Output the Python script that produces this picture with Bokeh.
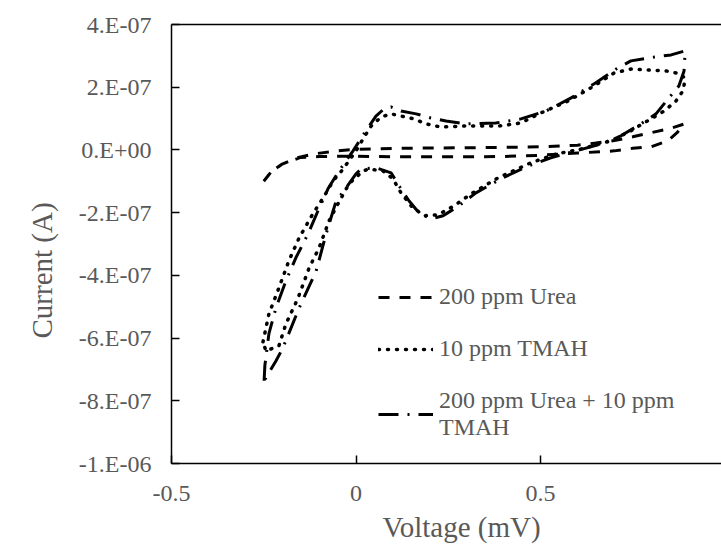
from bokeh.plotting import figure
from bokeh.models import LinearAxis, FixedTicker, Range1d, Legend, LegendItem, Title
from bokeh.embed import file_html
from bokeh.resources import INLINE

# ---- data (voltage in V, current in units of 1e-7 A) ----
voltage_ticks = [-0.5, 0, 0.5, 1.0]
voltage_tick_labels = ["-0.5", "0", "0.5", "1"]
current_ticks = [4, 2, 0, -2, -4, -6, -8, -10]
current_tick_labels = ["4.E-07", "2.E-07", "0.E+00", "-2.E-07", "-4.E-07", "-6.E-07", "-8.E-07", "-1.E-06"]

x_title = "Voltage (mV)"
y_title = "Current (A)"
series_names = ["200 ppm Urea", "10 ppm TMAH", "200 ppm Urea + 10 ppm\nTMAH"]

urea_v = [-0.25, -0.23, -0.2, -0.16, -0.11, -0.05, 0.0, 0.1, 0.2, 0.3, 0.4, 0.5, 0.6, 0.65, 0.7, 0.75, 0.8, 0.85, 0.89,
          0.87, 0.845, 0.8, 0.75, 0.7, 0.6, 0.5, 0.4, 0.3, 0.2, 0.1, 0.0, -0.05, -0.1, -0.15, -0.2, -0.23, -0.25]
urea_i = [-1.0, -0.7, -0.45, -0.25, -0.12, -0.03, 0.02, 0.05, 0.06, 0.07, 0.08, 0.1, 0.15, 0.22, 0.3, 0.42, 0.55, 0.68, 0.83,
          0.55, 0.29, 0.1, 0.05, -0.03, -0.1, -0.17, -0.21, -0.22, -0.22, -0.22, -0.2, -0.2, -0.21, -0.24, -0.45, -0.7, -1.0]

tmah_v = [-0.252, -0.236, -0.209, -0.182, -0.154, -0.117, -0.089, -0.062, -0.035, 0.0, 0.019, 0.041, 0.068, 0.095,
          0.122, 0.157, 0.19, 0.23, 0.293, 0.385, 0.447, 0.501, 0.575, 0.645, 0.699, 0.745, 0.791, 0.84, 0.881, 0.892,
          0.886, 0.867, 0.835, 0.799, 0.745, 0.691, 0.61, 0.542, 0.474, 0.385, 0.312, 0.266, 0.222, 0.184, 0.149,
          0.122, 0.1, 0.073, 0.035, 0.019, -0.019, -0.049, -0.073, -0.1, -0.127, -0.157, -0.19, -0.209, -0.244, -0.252]
tmah_i = [-6.12, -5.23, -4.4, -3.54, -2.8, -2.04, -1.53, -0.99, -0.61, -0.03, 0.35, 0.76, 1.05, 1.15,
          1.08, 0.99, 0.83, 0.73, 0.76, 0.76, 0.86, 1.18, 1.56, 2.04, 2.45, 2.58, 2.55, 2.52, 2.42, 2.26,
          1.88, 1.56, 1.24, 0.99, 0.61, 0.29, 0.03, -0.13, -0.41, -0.89, -1.4, -1.78, -2.07, -2.1, -1.78,
          -1.37, -0.92, -0.67, -0.61, -0.67, -1.08, -1.72, -2.26, -3.12, -3.76, -4.72, -5.55, -6.25, -6.41, -6.12]

mix_v = [-0.249, -0.247, -0.236, -0.217, -0.19, -0.163, -0.13, -0.103, -0.076, -0.046, -0.008, 0.027, 0.054, 0.076,
         0.095, 0.122, 0.163, 0.203, 0.244, 0.298, 0.379, 0.447, 0.515, 0.583, 0.65, 0.705, 0.745, 0.808, 0.854, 0.892,
         0.889, 0.875, 0.848, 0.813, 0.772, 0.718, 0.664, 0.596, 0.528, 0.461, 0.393, 0.325, 0.279, 0.236, 0.203,
         0.171, 0.144, 0.117, 0.095, 0.054, 0.014, 0.0, -0.027, -0.054, -0.081, -0.108, -0.154, -0.198, -0.217, -0.249]
mix_i = [-7.36, -6.88, -5.86, -5.04, -4.18, -3.44, -2.68, -1.94, -1.24, -0.67, -0.03, 0.61, 1.08, 1.31,
         1.37, 1.24, 1.15, 1.02, 0.92, 0.83, 0.86, 0.99, 1.24, 1.66, 2.14, 2.58, 2.84, 2.96, 3.03, 3.16,
         2.52, 2.04, 1.66, 1.15, 0.83, 0.45, 0.19, -0.03, -0.25, -0.54, -0.92, -1.37, -1.78, -2.1, -2.2,
         -2.01, -1.63, -1.15, -0.73, -0.57, -0.61, -0.76, -1.21, -1.63, -2.68, -3.86, -5.04, -6.31, -6.73, -7.36]

FONT = "Liberation Serif, Times New Roman, serif"
GREY = "#595959"

p = figure(width=721, height=550, output_backend="svg", toolbar_location=None,
           x_range=Range1d(-0.5, 0.9905), y_range=Range1d(-10, 4),
           min_border_left=171, min_border_right=0, min_border_top=24, min_border_bottom=87,
           background_fill_color="white", border_fill_color="white")
p.outline_line_color = None
p.grid.visible = False

r_urea = p.line(urea_v, urea_i, line_color="black", line_width=3, line_dash="11 10")
r_tmah = p.line(tmah_v, tmah_i, line_color="black", line_width=3.5, line_dash="1 8", line_cap="round")
r_mix = p.line(mix_v, mix_i, line_color="black", line_width=3, line_dash="20 9 2 9")

for ax in (p.xaxis[0], p.yaxis[0]):
    ax.axis_line_color = "black"
    ax.axis_line_width = 1.5
    ax.major_tick_line_color = "black"
    ax.major_tick_line_width = 1.5
    ax.major_tick_in = 8
    ax.major_tick_out = 0
    ax.minor_tick_line_color = None
    ax.major_label_text_font = FONT
    ax.major_label_text_font_size = "24px"
    ax.major_label_text_color = GREY

p.xaxis[0].ticker = FixedTicker(ticks=voltage_ticks)
p.xaxis[0].major_label_overrides = dict(zip(voltage_ticks, voltage_tick_labels))
p.xaxis[0].major_label_standoff = 22

p.yaxis[0].ticker = FixedTicker(ticks=current_ticks)
p.yaxis[0].major_label_overrides = dict(zip(current_ticks, current_tick_labels))
p.yaxis[0].major_label_standoff = 20

top = LinearAxis(ticker=FixedTicker(ticks=[]), axis_line_color="black", axis_line_width=1.5,
                 major_tick_line_color=None, minor_tick_line_color=None,
                 major_label_text_font_size="0px")
p.add_layout(top, "above")

p.add_layout(Title(text=x_title, align="left", offset=211, standoff=10, vertical_align="bottom",
                   text_font=FONT, text_font_size="29px", text_color=GREY,
                   text_font_style="normal"), "below")
p.add_layout(Title(text=y_title, align="left", offset=125, standoff=36, vertical_align="bottom",
                   text_font=FONT, text_font_size="29px", text_color=GREY,
                   text_font_style="normal"), "left")

legend = Legend(items=[LegendItem(label=series_names[0], renderers=[r_urea]),
                       LegendItem(label=series_names[1], renderers=[r_tmah]),
                       LegendItem(label=series_names[2], renderers=[r_mix])],
                location=(207, 22), padding=0, margin=0, border_line_color=None,
                background_fill_alpha=0, label_text_font=FONT, label_text_font_size="24px",
                label_text_color=GREY, glyph_width=55, label_standoff=6, spacing=25)
p.add_layout(legend, "center")

open("out.html", "w").write(file_html(p, INLINE))
